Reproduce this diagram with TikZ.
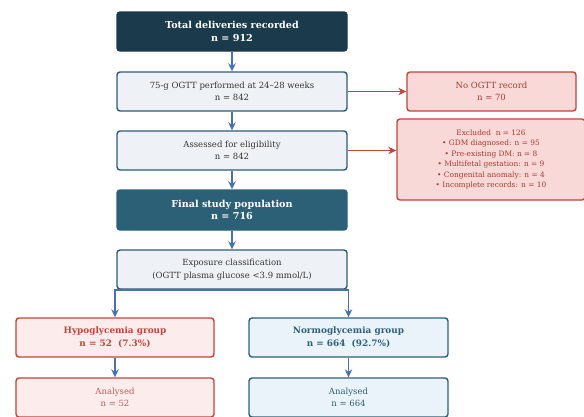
\documentclass[tikz,border=0pt]{standalone}
\usepackage{fontspec}
\setmainfont{DejaVu Serif}
\usetikzlibrary{arrows.meta}
\definecolor{darkA}{HTML}{1B3A4B}
\definecolor{darkB}{HTML}{2B6077}
\definecolor{lightF}{HTML}{EEF2F6}
\definecolor{lightD}{HTML}{2F5A74}
\definecolor{redF}{HTML}{F9D9D7}
\definecolor{redD}{HTML}{C0453A}
\definecolor{redT}{HTML}{A33A30}
\definecolor{hypoF}{HTML}{FDECEC}
\definecolor{normF}{HTML}{EAF2FA}
\definecolor{normD}{HTML}{2E6078}
\definecolor{arrB}{HTML}{4A70B0}
\tikzset{
  box/.style={rectangle, rounded corners=3pt, line width=1.4pt, align=center, inner sep=0pt, font=\fontsize{8.5}{12.5}\selectfont},
  darkbox/.style={box, fill=#1, draw=#1, text=white, font=\bfseries\fontsize{9.6}{12.5}\selectfont},
  lightbox/.style={box, fill=lightF, draw=lightD, text=black!80},
  redbox/.style={box, fill=redF, draw=redD, text=redT},
  arr/.style={draw=arrB, line width=1.6pt, -{Stealth[length=8pt,width=7.5pt]}},
  rarr/.style={draw=redD, line width=1.6pt, -{Stealth[length=8pt,width=7.5pt]}}
}
\begin{document}
\begin{tikzpicture}[x=1pt,y=-1pt]
\useasboundingbox (0,0) rectangle (584,416);
\begin{scope}
\clip (0,0) rectangle (584,416);
\node[darkbox=darkA, minimum width=230pt, minimum height=39pt] (total) at (232,31.5) {Total deliveries recorded\\n = 912};
\node[lightbox, minimum width=230pt, minimum height=39pt] (ogtt) at (232,91.5) {75-g OGTT performed at 24--28 weeks\\n = 842};
\node[lightbox, minimum width=230pt, minimum height=39pt] (assess) at (232,150.5) {Assessed for eligibility\\n = 842};
\node[darkbox=darkB, minimum width=230pt, minimum height=40pt] (final) at (232,210) {Final study population\\n = 716};
\node[lightbox, minimum width=230pt, minimum height=39pt] (expo) at (232,269.5) {Exposure classification\\(OGTT plasma glucose <3.9 mmol/L)};
\node[redbox, minimum width=169pt, minimum height=39pt] (noogtt) at (491.5,91.5) {No OGTT record\\n = 70};
\node[redbox, minimum width=188pt, minimum height=81pt, font=\fontsize{7.4}{10.4}\selectfont] (excl) at (491,159.5) {Excluded~ n = 126\\• GDM diagnosed: n = 95\\• Pre-existing DM: n = 8\\• Multifetal gestation: n = 9\\• Congenital anomaly: n = 4\\• Incomplete records: n = 10};
\node[box, fill=hypoF, draw=redD, text=redD, font=\bfseries\fontsize{8.9}{12.5}\selectfont, minimum width=198pt, minimum height=39pt] (hypo) at (115,337.5) {Hypoglycemia group\\n = 52~ (7.3\%)};
\node[box, fill=normF, draw=normD, text=normD, font=\bfseries\fontsize{8.9}{12.5}\selectfont, minimum width=199pt, minimum height=39pt] (normo) at (348.5,337.5) {Normoglycemia group\\n = 664~ (92.7\%)};
\node[box, fill=hypoF, draw=redD, text=redT!80, minimum width=198pt, minimum height=39pt] (anh) at (115,397.5) {Analysed\\n = 52};
\node[box, fill=normF, draw=normD, text=normD, minimum width=199pt, minimum height=39pt] (ann) at (348.5,397.5) {Analysed\\n = 664};
\draw[arr] (total) -- (ogtt);
\draw[arr] (ogtt) -- (assess);
\draw[arr] (assess) -- (final);
\draw[arr] (final) -- (expo);
\draw[arr] (expo.south) -| (hypo.north);
\draw[arr] (expo.south) -| (normo.north);
\draw[arr] (hypo) -- (anh);
\draw[arr] (normo) -- (ann);
\draw[rarr] (ogtt) -- (noogtt);
\draw[rarr] (assess.east) -- (assess.east -| excl.west);
\end{scope}
\end{tikzpicture}
\end{document}
